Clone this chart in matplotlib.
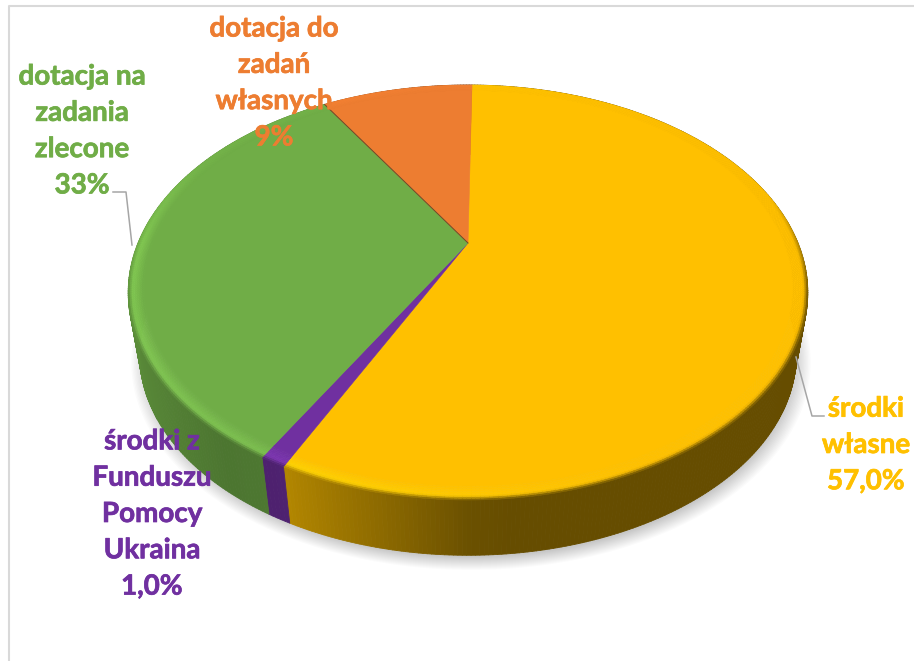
import numpy as np
import matplotlib
matplotlib.use("Agg")
import matplotlib.pyplot as plt
import matplotlib.patheffects as pe
from matplotlib.collections import PolyCollection

# slices, clockwise from the top of the pie
labels = ["środki\nwłasne\n57,0%", "środki z\nFunduszu\nPomocy\nUkraina\n1,0%",
          "dotacja na\nzadania\nzlecone\n33%", "dotacja do\nzadań\nwłasnych\n9%"]
values = [57.0, 1.0, 33.0, 9.0]
colors = ["#FFC000", "#7030A0", "#70AD47", "#ED7D31"]

# where the labels sit (pixels of the picture)
label_x = [866, 152, 82, 274]
label_y = [445, 514, 131, 83]

plt.rcParams["font.family"] = ["Lato", "DejaVu Sans"]

# perspective of the disc, in pixels
CX, CY = 468, 243
A, B, K = 330, 195.7, 0.2386
DEPTH_Y, DEPTH_S = 64, 0.966
START = 0.86
RIM = 0.955


def project(theta, rho=1.0, low=False):
    u = rho * np.sin(theta)
    v = rho * np.cos(theta)
    w = 1 + K * v
    x = A * u / w
    y = B * v / w
    if low:
        return CX + DEPTH_S * x, CY + DEPTH_Y - DEPTH_S * y
    return CX + x, CY - y


def rgb(c):
    return np.array(matplotlib.colors.to_rgb(c))


def wall_shade(u):
    # the wall gets lighter towards the left of the pie
    return np.interp(u, [-1, -0.6, -0.44, 0, 0.1], [0.82, 0.68, 0.7, 0.42, 0.4])


fig = plt.figure(figsize=(9.14, 6.61), dpi=100)
ax = fig.add_axes([0, 0, 1, 1])
ax.set_xlim(0, 914)
ax.set_ylim(661, 0)
ax.axis("off")

# frame of the chart area
ax.plot([9, 9, 914], [661, 6, 6], color="#D9D9D9", lw=1.5, zorder=1)

# soft shadow under the pie
t_all = np.linspace(0, 2 * np.pi, 240)
for i in range(14):
    s = 1.035 - i * 0.004
    sx, sy = project(t_all, low=True)
    ax.fill(CX + (sx - CX) * s + 3, CY + DEPTH_Y + 6 + (sy - CY - DEPTH_Y) * s,
            color="black", alpha=0.017, lw=0, zorder=2)

edges = START + np.cumsum([0] + values) / sum(values) * 360
edges = np.radians(edges)

# side wall
side_polys, side_cols = [], []
for i, c in enumerate(colors):
    ts = np.linspace(edges[i], edges[i + 1], max(3, int(values[i] * 6)))
    for a, b in zip(ts[:-1], ts[1:]):
        x0, y0 = project(np.array([a, b]))
        x1, y1 = project(np.array([a, b]), low=True)
        side_polys.append([(x0[0], y0[0]), (x0[1], y0[1]), (x1[1], y1[1]), (x1[0], y1[0])])
        side_cols.append(rgb(c) * wall_shade(np.sin((a + b) / 2)))
ax.add_collection(PolyCollection(side_polys, facecolors=side_cols, edgecolors=side_cols,
                                 linewidths=0.6, zorder=3))

# flat top
for i, c in enumerate(colors):
    ts = np.linspace(edges[i], edges[i + 1], max(3, int(values[i] * 6)))
    x, y = project(ts, RIM + 0.002)
    ax.fill(np.r_[CX, x], np.r_[CY, y], color=c, lw=0.4, zorder=4)

# bevelled rim of the top
rim_polys, rim_cols = [], []
rhos = np.linspace(1.0, RIM, 10)
for i, c in enumerate(colors):
    base = rgb(c)
    ts = np.linspace(edges[i], edges[i + 1], max(3, int(values[i] * 6)))
    for a, b in zip(ts[:-1], ts[1:]):
        mid = (a + b) / 2
        u, v = np.sin(mid), np.cos(mid)
        dark = np.clip((0.25 - v) / 0.5, 0, 1)
        light = np.clip(0.3 - 0.7 * u, 0, 1) * np.clip((0.6 - v) / 0.6, 0.25, 1)
        top = np.clip(base * (1 + 0.16 * light), 0, 1)
        low = base * wall_shade(u)
        low = top + (low - top) * dark
        for j in range(len(rhos) - 1):
            x0, y0 = project(np.array([a, b]), rhos[j])
            x1, y1 = project(np.array([a, b]), rhos[j + 1])
            rim_polys.append([(x0[0], y0[0]), (x0[1], y0[1]), (x1[1], y1[1]), (x1[0], y1[0])])
            t = (j + 0.5) / (len(rhos) - 1)
            if t < 0.3:
                col = low + (top - low) * (t / 0.3)
            else:
                col = top + (base - top) * ((t - 0.3) / 0.7)
            rim_cols.append(np.clip(col, 0, 1))
ax.add_collection(PolyCollection(rim_polys, facecolors=rim_cols, edgecolors=rim_cols,
                                 linewidths=0.4, zorder=5))

# thin dark seam between the orange and green slices
sx, sy = project(np.array([edges[3]]))
ax.plot([CX, sx[0]], [CY, sy[0]], color="#6B4A2A", lw=0.7, zorder=6)

# leader lines
ax.plot([796, 812, 824], [357, 416, 416], color="#A6A6A6", lw=1.1, zorder=6)
ax.plot([132, 126, 113], [245, 192, 192], color="#A6A6A6", lw=1.1, zorder=6)

for lab, x, y, c in zip(labels, label_x, label_y, colors):
    ax.text(x, y, lab, color=c, fontsize=20, fontweight="bold", ha="center", va="center",
            linespacing=1.49, zorder=7,
            path_effects=[pe.withStroke(linewidth=0.5, foreground=c)])

fig.savefig("out.png", dpi=100)
